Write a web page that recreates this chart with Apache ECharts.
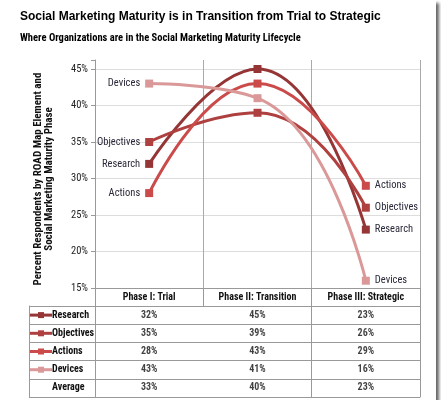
<!DOCTYPE html>
<html><head><meta charset="utf-8">
<script src="https://cdn.jsdelivr.net/npm/echarts@6/dist/echarts.min.js"></script>
<style>
html,body{margin:0;padding:0;background:#fff;}
#c{width:436px;height:400px;background:#fff;box-shadow:3px 3px 3px #666;}
</style></head>
<body><div id="c"></div>
<script>
const phases = ['Phase I: Trial', 'Phase II: Transition', 'Phase III: Strategic'];
const seriesNames = ['Research', 'Objectives', 'Actions', 'Devices'];
const research = [32, 45, 23];
const objectives = [35, 39, 26];
const actions = [28, 43, 29];
const devices = [43, 41, 16];
const average = [33, 40, 23];
const yTicks = [15, 20, 25, 30, 35, 40, 45];

const colors = ['#953535', '#AE4040', '#CB4A4A', '#DA9898'];
const values = [research, objectives, actions, devices];
const rowNames = seriesNames.concat(['Average']);
const tableRows = values.concat([average]);

const NARROW = '"Roboto Condensed", "Open Sans Condensed", sans-serif';
const SANS = '"Liberation Sans", Arial, sans-serif';

const rich = { t: { fontFamily: NARROW, fontSize: 10, fontWeight: 'bold', color: '#111', verticalAlign: 'middle' },
  sp: { width: 22, height: 3, verticalAlign: 'middle' } };
colors.forEach((c, i) => {
  rich['a' + i] = { width: 8, height: 3, backgroundColor: c, verticalAlign: 'middle' };
  rich['b' + i] = { width: 6, height: 6, backgroundColor: c, verticalAlign: 'middle' };
});

const lineSeries = seriesNames.map((name, si) => ({
  name: name,
  type: 'line',
  xAxisIndex: 0, yAxisIndex: 0,
  smooth: 0.5,
  symbol: 'rect',
  symbolSize: 8,
  color: colors[si],
  lineStyle: { width: 3, color: colors[si] },
  itemStyle: { color: colors[si] },
  emphasis: { disabled: true },
  data: values[si].map((v, i) => ({
    value: v,
    label: { show: i !== 1, position: i === 0 ? 'left' : 'right', distance: 5,
      formatter: name, fontFamily: NARROW, fontSize: 10.5, color: '#2a2a3a' }
  }))
}));

const tableData = [];
tableRows.forEach((arr, r) => arr.forEach((v, c) => tableData.push([c, r, v])));

const chart = echarts.init(document.getElementById('c'), null, { renderer: 'canvas' });
chart.setOption({
  animation: false,
  backgroundColor: '#fff',
  title: [
    { text: 'Social Marketing Maturity is in Transition from Trial to Strategic', left: 15, top: 6,
      textStyle: { fontFamily: SANS, fontSize: 12, fontWeight: 'bold', color: '#000' } },
    { text: 'Where Organizations are in the Social Marketing Maturity Lifecycle', left: 15, top: 28,
      textStyle: { fontFamily: NARROW, fontSize: 10.5, fontWeight: 'bold', color: '#000' } }
  ],
  grid: [
    { left: 95, right: 16, top: 60, bottom: 112 },
    { left: 95, right: 16, top: 306, bottom: 3 }
  ],
  xAxis: [
    { type: 'category', gridIndex: 0, data: phases, boundaryGap: true,
      axisLine: { show: true, lineStyle: { color: '#999', width: 1 } },
      axisTick: { show: true, length: 18, alignWithLabel: false, lineStyle: { color: '#999' } },
      axisLabel: { interval: 0, margin: 4, fontFamily: NARROW, fontSize: 10, fontWeight: 'bold', color: '#111' },
      splitLine: { show: true, lineStyle: { color: '#aaa', width: 1 } } },
    { type: 'category', gridIndex: 1, data: phases, boundaryGap: true,
      axisLine: { show: true, lineStyle: { color: '#999', width: 1 } },
      axisTick: { show: false }, axisLabel: { show: false },
      splitLine: { show: true, lineStyle: { color: '#999', width: 1 } } }
  ],
  yAxis: [
    { type: 'value', gridIndex: 0, min: 15, max: 46.23, interval: 5,
      name: 'Percent Respondents by ROAD Map Element and\nSocial Marketing Maturity Phase',
      nameLocation: 'middle', nameGap: 40,
      nameTextStyle: { fontFamily: NARROW, fontSize: 11, fontWeight: 'bold', color: '#111', lineHeight: 11, padding: [0, 10, 0, 0] },
      axisLine: { show: true, lineStyle: { color: '#999' } },
      axisTick: { show: true, length: 4, lineStyle: { color: '#999' } },
      axisLabel: { margin: 7, fontFamily: NARROW, fontSize: 10.5, color: '#222',
        formatter: v => yTicks.indexOf(Math.round(v * 1000) / 1000) >= 0 ? v + '%' : '' },
      splitLine: { show: true, showMaxLine: false, lineStyle: { color: '#ddd', width: 1 } } },
    { type: 'category', gridIndex: 1, data: rowNames, inverse: true, boundaryGap: true,
      axisLine: { show: true, lineStyle: { color: '#999' } },
      axisTick: { show: true, length: 66, alignWithLabel: false, lineStyle: { color: '#999' } },
      axisLabel: { interval: 0, align: 'left', margin: 65, rich: rich,
        formatter: (v) => { const i = seriesNames.indexOf(v);
          return i >= 0 ? `{a${i}|}{b${i}|}{a${i}|}{t|${v}}` : `{sp|}{t|${v}}`; } },
      splitLine: { show: true, lineStyle: { color: '#999', width: 1 } } },
    { type: 'category', gridIndex: 1, data: rowNames, inverse: true, position: 'left', offset: 66,
      axisLine: { show: true, lineStyle: { color: '#999' } },
      axisTick: { show: false }, axisLabel: { show: false }, splitLine: { show: false } }
  ],
  series: lineSeries.concat([{
    type: 'scatter', xAxisIndex: 1, yAxisIndex: 1, symbolSize: 1,
    itemStyle: { color: 'rgba(0,0,0,0)' },
    emphasis: { disabled: true },
    label: { show: true, position: 'inside', formatter: p => p.value[2] + '%',
      fontFamily: NARROW, fontSize: 10, fontWeight: 'bold', color: '#111' },
    data: tableData
  }])
});
</script></body></html>
